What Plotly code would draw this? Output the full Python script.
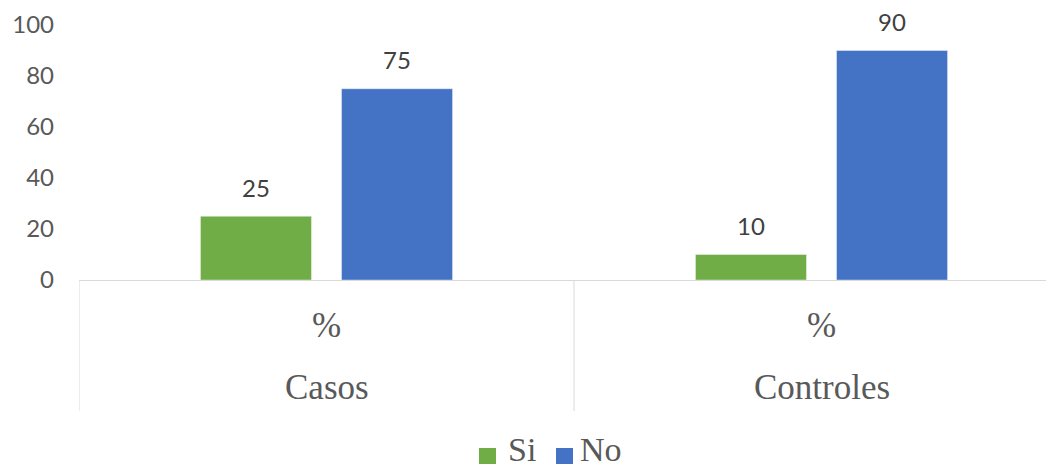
import plotly.graph_objects as go

categories = ["Casos", "Controles"]
sublabel = "%"
series_names = ["Si", "No"]
si_values = [25, 10]
no_values = [75, 90]
y_ticks = [0, 20, 40, 60, 80, 100]

colors = {"Si": "#70AD47", "No": "#4472C4"}
bargap = 0.43
bargroupgap = 0.213
slot = (1 - bargap) / 2

# page body adds an 8px offset; geometry below is in screenshot pixels
OFF = 8
W, H = 1054, 470
L = 79 - OFF
T = 25 - OFF
PLOT_BOTTOM = 280 - OFF
B = H - PLOT_BOTTOM
PW, PH = W - L, PLOT_BOTTOM - T
CAT_W = 495


def px_x(x):
    return (x - OFF - L) / PW


def px_y(y):
    return (PLOT_BOTTOM - (y - OFF)) / PH


fig = go.Figure()
for name, vals in zip(series_names, [si_values, no_values]):
    fig.add_trace(go.Bar(
        name=name, x=categories, y=vals,
        marker=dict(color=colors[name], line=dict(color="rgba(255,255,255,0.4)", width=1)),
        hoverinfo="y", showlegend=False,
    ))

sans = "Lato, Open Sans, sans-serif"
serif = "Liberation Serif, Times New Roman, serif"

annotations = []
for s_idx, vals in enumerate([si_values, no_values]):
    off = (s_idx - 0.5) * slot
    for i, v in enumerate(vals):
        annotations.append(dict(
            x=i + off, y=v, xref="x", yref="y", text=str(v), showarrow=False,
            yshift=29, yanchor="middle",
            font=dict(family=sans, size=24, color="#404040"),
        ))

shapes = []
for i, cat in enumerate(categories):
    annotations.append(dict(
        x=i, y=px_y(325), xref="x", yref="paper", text=sublabel, showarrow=False,
        yanchor="middle", font=dict(family=serif, size=35, color="#595959"),
    ))
    annotations.append(dict(
        x=i, y=px_y(387), xref="x", yref="paper", text=cat, showarrow=False,
        yanchor="middle", font=dict(family=serif, size=35, color="#595959"),
    ))
for b in [-0.5, 0.5, 1.5]:
    shapes.append(dict(type="line", xref="x", yref="paper", x0=b, x1=b, y0=0, y1=px_y(411),
                       line=dict(color="#d9d9d9", width=1)))

# manual legend
legend_items = [("Si", 479, 506), ("No", 556, 578)]
for name, sx, tx in legend_items:
    shapes.append(dict(type="rect", xref="paper", yref="paper",
                       x0=px_x(sx), x1=px_x(sx + 17), y0=px_y(448), y1=px_y(464),
                       fillcolor=colors[name], line=dict(width=0)))
    annotations.append(dict(x=px_x(tx), y=px_y(450), xref="paper", yref="paper", text=name,
                            showarrow=False, xanchor="left", yanchor="middle",
                            font=dict(family=serif, size=34, color="#595959")))

fig.update_layout(
    width=W, height=H,
    margin=dict(l=L, r=0, t=T, b=B),
    paper_bgcolor="white", plot_bgcolor="white",
    barmode="group", bargap=bargap, bargroupgap=bargroupgap,
    showlegend=False,
    xaxis=dict(type="category", categoryorder="array", categoryarray=categories,
               range=[-0.5, -0.5 + PW / CAT_W], showticklabels=False, showgrid=False,
               showline=True, linecolor="#d9d9d9", linewidth=1, zeroline=False, ticks="",
               automargin=False),
    yaxis=dict(range=[0, 100], tickvals=y_ticks, showgrid=False, zeroline=False, showline=False,
               tickfont=dict(family=sans, size=24, color="#595959"),
               ticklabelstandoff=24, automargin=False),
    annotations=annotations, shapes=shapes,
)

fig.write_html("out.html")
